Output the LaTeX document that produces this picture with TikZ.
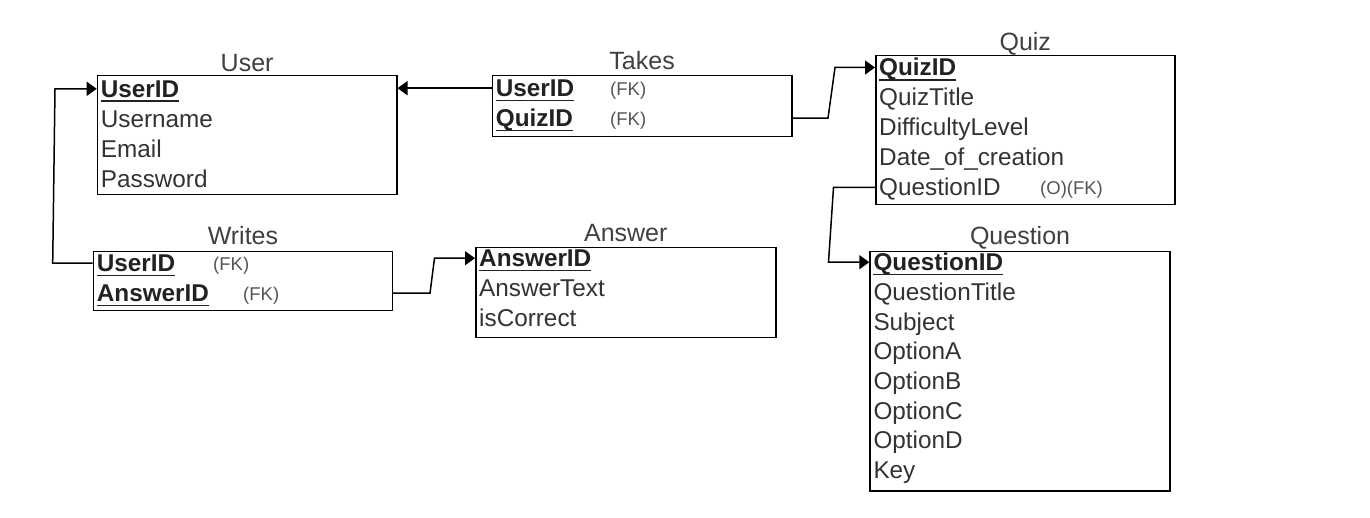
\documentclass[tikz,border=0pt]{standalone}
\usepackage{fontspec}
\setmainfont{Liberation Sans}
\usetikzlibrary{arrows.meta,calc}
\definecolor{txtc}{HTML}{333333}
\definecolor{keyc}{HTML}{222222}
\definecolor{ttlc}{HTML}{404040}
\definecolor{smlc}{HTML}{555555}
\tikzset{
  box/.style={draw=black, line width=1.5pt, inner sep=0pt, anchor=north west},
  ttl/.style={anchor=base, inner sep=0pt, text=ttlc, font=\fontsize{25}{30}\selectfont},
  fld/.style={anchor=base west, inner sep=0pt, text height=17pt, text depth=0pt, text=txtc, font=\fontsize{24.3}{29}\selectfont},
  keyf/.style={anchor=base west, inner sep=0pt, text height=17pt, text depth=0pt, text=keyc, font=\fontsize{24.3}{29}\selectfont\bfseries},
  fk/.style={anchor=base west, inner sep=0pt, text=smlc, font=\fontsize{18.5}{22}\selectfont},
  ul/.style={line width=1.6pt, draw=keyc},
  conn/.style={line width=1.5pt, -{Triangle[length=10pt,width=14pt]}},
}
\newcommand\ulkey[1]{\draw[ul] ([yshift=-4pt]#1.base west) -- ([yshift=-4pt]#1.base east);}
\begin{document}
\begin{tikzpicture}[x=1pt,y=-1pt]
\useasboundingbox (0,0) rectangle (1370,518);
\fill[white] (0,0) rectangle (1370,518);

% boxes
\node[box, minimum width=299.3pt, minimum height=119pt] (user) at (96.7,75) {};
\node[box, minimum width=299.3pt, minimum height=60.7pt] (takes) at (491.7,75) {};
\node[box, minimum width=299pt, minimum height=149pt] (quiz) at (875,55) {};
\node[box, minimum width=299pt, minimum height=59.3pt] (writes) at (92.7,250.7) {};
\node[box, minimum width=300pt, minimum height=90pt] (answer) at (475,246.7) {};
\node[box, minimum width=300pt, minimum height=239.3pt] (question) at (869.3,250.7) {};

% titles
\node[ttl] (userT) at ([yshift=3pt]user.north) {User};
\node[ttl] (takesT) at ([yshift=5pt]takes.north) {Takes};
\node[ttl] (quizT) at ([yshift=4pt]quiz.north) {Quiz};
\node[ttl] (writesT) at ([yshift=5.7pt]writes.north) {Writes};
\node[ttl] (answerT) at ([yshift=5pt]answer.north) {Answer};
\node[ttl] (questionT) at ([yshift=5.7pt]question.north) {Question};

% User
\node[keyf] (uid) at (100.7,97.3) {UserID}; \ulkey{uid}
\node[fld] (uname) at (100.7,127.3) {Username};
\node[fld] (uemail) at (100.7,157.3) {Email};
\node[fld] (upass) at (100.7,187.3) {Password};

% Takes
\node[keyf] (tuid) at (495.7,96.7) {UserID}; \ulkey{tuid}
\node[keyf] (tqid) at (495.7,126.7) {QuizID}; \ulkey{tqid}
\node[fk] (tfk1) at (610,95.5) {(FK)};
\node[fk] (tfk2) at (610,125.5) {(FK)};

% Quiz
\node[keyf] (qid) at (879,76) {QuizID}; \ulkey{qid}
\node[fld] (qtitle) at (879,106) {QuizTitle};
\node[fld] (qdiff) at (879,136) {DifficultyLevel};
\node[fld] (qdate) at (879,166) {Date\_of\_creation};
\node[fld] (qqid) at (879,196) {QuestionID};
\node[fk] (qfk) at (1040,194.5) {(O)(FK)};

% Writes
\node[keyf] (wuid) at (96.7,271.7) {UserID}; \ulkey{wuid}
\node[keyf] (waid) at (96.7,301.7) {AnswerID}; \ulkey{waid}
\node[fk] (wfk1) at (213,271) {(FK)};
\node[fk] (wfk2) at (243,301) {(FK)};

% Answer
\node[keyf] (aid) at (479,266.7) {AnswerID}; \ulkey{aid}
\node[fld] (atext) at (479,296.7) {AnswerText};
\node[fld] (acorr) at (479,326.7) {isCorrect};

% Question
\node[keyf] (qsid) at (873.3,270.7) {QuestionID}; \ulkey{qsid}
\node[fld] (qstitle) at (873.3,300.4) {QuestionTitle};
\node[fld] (qssub) at (873.3,330.1) {Subject};
\node[fld] (qsa) at (873.3,359.8) {OptionA};
\node[fld] (qsb) at (873.3,389.5) {OptionB};
\node[fld] (qsc) at (873.3,419.2) {OptionC};
\node[fld] (qsd) at (873.3,448.9) {OptionD};
\node[fld] (qskey) at (873.3,478.6) {Key};

% connectors
\draw[conn] (tuid.west -| takes.west) -- (tuid.west -| user.east);
\draw[conn] (wuid.west -| writes.west) -- (wuid.west -| 52.7,0) -- (uid.west -| 55,0) -- (uid.west -| user.west);
\draw[conn] (tqid.west -| takes.east) -- (tqid.west -| 828,0) -- (qid.west -| 835,0) -- (qid.west -| quiz.west);
\draw[conn] (waid.west -| writes.east) -- (waid.west -| 430,0) -- (aid.west -| 434.5,0) -- (aid.west -| answer.west);
\draw[conn] (qqid.west -| quiz.west) -- (qqid.west -| 833.5,0) -- (qsid.west -| 828.5,0) -- (qsid.west -| question.west);
\end{tikzpicture}
\end{document}
